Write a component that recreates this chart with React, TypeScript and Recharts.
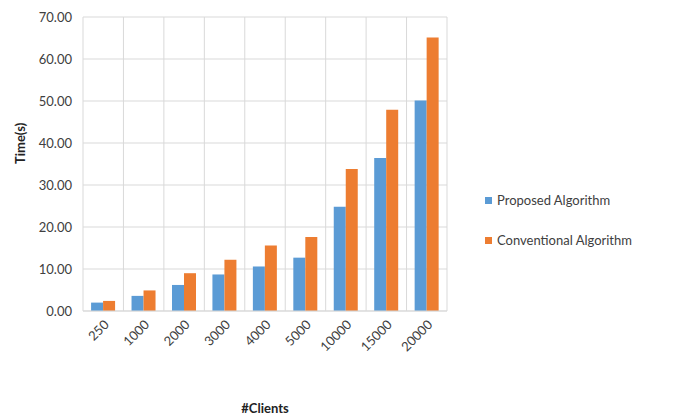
import React from "react";
import {
  BarChart,
  Bar,
  XAxis,
  YAxis,
  CartesianGrid,
  Legend,
} from "recharts";

const clients = ["250", "1000", "2000", "3000", "4000", "5000", "10000", "15000", "20000"];
const proposed = [2.0, 3.6, 6.2, 8.7, 10.6, 12.7, 24.8, 36.4, 50.1];
const conventional = [2.4, 4.9, 9.0, 12.2, 15.6, 17.6, 33.8, 47.9, 65.1];
const yTicks = [0, 10, 20, 30, 40, 50, 60, 70];

const data = clients.map((c, i) => ({
  clients: c,
  proposed: proposed[i],
  conventional: conventional[i],
}));

const FONT = "Lato, 'Open Sans', sans-serif";
const GRID = "#d9d9d9";

// vertical list, same look as the Excel legend
function SideLegend({ payload }: any) {
  const items = [...(payload ?? [])].sort((a: any, b: any) => (a.dataKey === "proposed" ? -1 : 1));
  return (
    <div style={{ fontFamily: FONT, fontSize: 13, color: "#404040" }}>
      {items.map((p: any) => (
        <div key={p.value} style={{ display: "flex", alignItems: "center", height: 40 }}>
          <span style={{ width: 7, height: 7, background: p.color, marginRight: 5, display: "inline-block" }} />
          {p.value}
        </div>
      ))}
    </div>
  );
}

export default function App() {
  return (
    <div style={{ position: "absolute", left: 0, top: 0, width: 673, height: 416, background: "#fff", fontFamily: FONT }}>
      <BarChart
        width={673}
        height={416}
        data={data}
        margin={{ top: 17, right: 226, bottom: 30, left: 0 }}
        barGap={0}
        barCategoryGap="20%"
      >
        <CartesianGrid
          stroke={GRID}
          verticalCoordinatesGenerator={({ offset }: any) =>
            clients.map((_, i) => offset.left + (i * offset.width) / clients.length).concat(offset.left + offset.width)
          }
        />
        <XAxis
          dataKey="clients"
          height={75}
          interval={0}
          tickLine={false}
          axisLine={{ stroke: GRID }}
          angle={-45}
          textAnchor="end"
          tick={{ fill: "#404040", fontSize: 13, fontFamily: FONT }}
          label={{ value: "#Clients", position: "insideBottom", offset: -27, fill: "#222", fontSize: 13, fontWeight: 700, fontFamily: FONT }}
        />
        <YAxis
          width={83}
          domain={[0, 70]}
          ticks={yTicks}
          tickFormatter={(v: number) => v.toFixed(2)}
          axisLine={false}
          tickLine={false}
          tickMargin={5}
          tick={{ fill: "#404040", fontSize: 13, fontFamily: FONT }}
          label={{ value: "Time(s)", angle: -90, position: "insideLeft", offset: 20, fill: "#222", fontSize: 13, fontWeight: 700, fontFamily: FONT }}
        />
        <Legend
          layout="horizontal"
          verticalAlign="middle"
          content={<SideLegend />}
          wrapperStyle={{ left: 485, top: 180, width: 188 }}
        />
        <Bar dataKey="proposed" name="Proposed Algorithm" fill="#5B9BD5" isAnimationActive={false} />
        <Bar dataKey="conventional" name="Conventional Algorithm" fill="#ED7D31" isAnimationActive={false} />
      </BarChart>
    </div>
  );
}
